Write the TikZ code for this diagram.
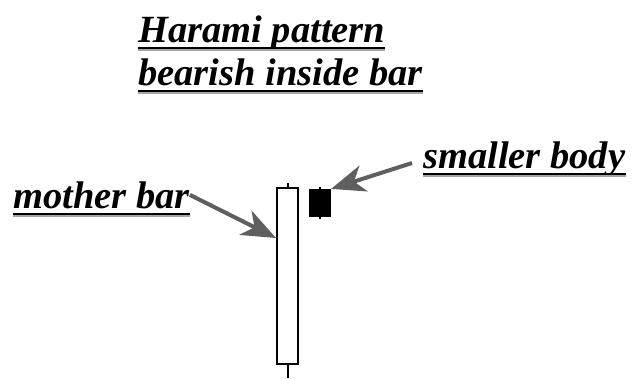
\documentclass[tikz,border=0pt]{standalone}
\usepackage{fontspec}
\setmainfont{Liberation Serif}
\usetikzlibrary{arrows.meta}
\definecolor{arrowgray}{HTML}{5F5F5F}
\tikzset{
  lbl/.style={inner sep=0pt, font=\fontsize{38.5}{42}\selectfont\bfseries\itshape},
  ptr/.style={line width=4pt, draw=arrowgray, -{Stealth[length=34pt,width=27pt,inset=10pt]}},
  wick/.style={line width=1.2pt}
}
\begin{document}
\begin{tikzpicture}[x=1pt,y=-1pt]
\useasboundingbox (0,0) rectangle (632,378);
% titles
\node[lbl, anchor=base west] (title1) at (138,42) {Harami pattern};
\node[lbl, anchor=base west] (title2) at (138,85) {bearish inside bar};
\node[lbl, anchor=base west] (motherlbl) at (13,208) {mother bar};
\node[lbl, anchor=base west] (smallerlbl) at (423,168) {smaller body};
% underlines
\foreach \n in {title1,title2,motherlbl,smallerlbl}{
  \draw[gray!70, line width=1.6pt] ([yshift=-8pt]\n.base west) -- ([yshift=-8pt]\n.base east);
  \draw[line width=1.6pt] ([yshift=-6pt]\n.base west) -- ([yshift=-6pt]\n.base east);
}
% candles
\draw[wick] (288,183) -- (288,378);
\node[draw, wick, fill=white, minimum width=21pt, minimum height=176pt, inner sep=0pt] (motherbody) at (287.5,276) {};
\draw[wick] (320,187) -- (320,219);
\node[draw, wick, fill=black, minimum width=21pt, minimum height=27pt, inner sep=0pt] (smallbody) at (320,203) {};
% arrows
\coordinate (mothertip) at (276,238);
\coordinate (smallerstart) at (412,163);
\draw[ptr] (motherlbl.east) -- (mothertip);
\draw[ptr] (smallerstart) -- (smallbody.north east);
\end{tikzpicture}
\end{document}
